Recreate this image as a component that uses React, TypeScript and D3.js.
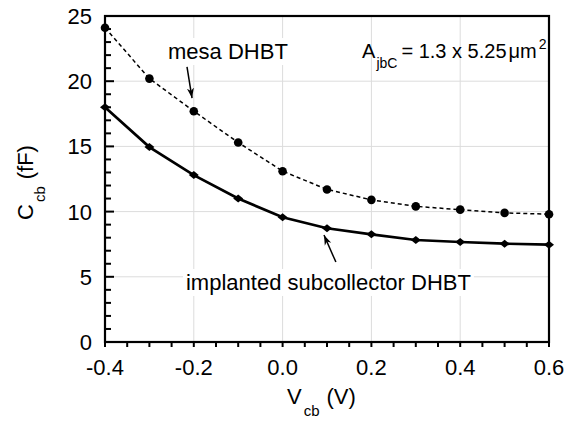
import React, { useLayoutEffect, useRef, useState } from "react";
import * as d3 from "d3";

const vcb = [-0.4, -0.3, -0.2, -0.1, 0.0, 0.1, 0.2, 0.3, 0.4, 0.5, 0.6];
const mesa = [24.1, 20.2, 17.7, 15.3, 13.1, 11.7, 10.9, 10.4, 10.15, 9.9, 9.8];
const implanted = [18.0, 14.95, 12.8, 11.0, 9.56, 8.72, 8.26, 7.82, 7.67, 7.54, 7.46];
const xTickVals = [-0.4, -0.2, 0.0, 0.2, 0.4, 0.6];
const xTickLabels = ["-0.4", "-0.2", "0.0", "0.2", "0.4", "0.6"];
const yTickVals = [0, 5, 10, 15, 20, 25];
const yTickLabels = ["0", "5", "10", "15", "20", "25"];

const W = 584;
const H = 422;
const M = { left: 105, right: 549, top: 16, bottom: 342 };
const FONT = "'Liberation Sans', Arial, Helvetica, sans-serif";

function BoxedText({ x, y, children, fontSize, pad = 3 }: any) {
  const ref = useRef<SVGTextElement>(null);
  const [bb, setBb] = useState<any>(null);
  useLayoutEffect(() => {
    if (ref.current) {
      const b = ref.current.getBBox();
      setBb({ x: b.x, y: b.y, width: b.width, height: b.height });
    }
  }, []);
  return (
    <g>
      {bb && (
        <rect x={bb.x - pad} y={bb.y - 1} width={bb.width + 2 * pad} height={bb.height + 2} fill="#fff" />
      )}
      <text ref={ref} x={x} y={y} fontSize={fontSize} fontFamily={FONT} fill="#000">
        {children}
      </text>
    </g>
  );
}

export default function App() {
  const x = d3.scaleLinear().domain([-0.4, 0.6]).range([M.left, M.right]);
  const y = d3.scaleLinear().domain([0, 25]).range([M.bottom, M.top]);

  const line = d3
    .line<number>()
    .x((_, i) => x(vcb[i]))
    .y((d) => y(d));

  const xMinor = d3.range(-0.4, 0.6001, 0.05);
  const yMinor = d3.range(0, 25.001, 1);
  const gridX = [-0.2, 0.0, 0.2, 0.4];
  const gridY = [5, 10, 15, 20];

  const diamond = d3.symbol(d3.symbolSquare, 45)()!;

  return (
    <svg width={W} height={H} style={{ position: "absolute", left: 0, top: 0, background: "#fff" }}>
      <defs>
        <marker id="arr" viewBox="0 0 10 10" refX="10" refY="5" markerWidth="10" markerHeight="10" markerUnits="userSpaceOnUse" orient="auto">
          <path d="M0,1.5 L10,5 L0,8.5 L3,5 Z" fill="#000" />
        </marker>
      </defs>
      {/* grid */}
      {gridX.map((v) => (
        <line key={"gx" + v} x1={x(v)} x2={x(v)} y1={M.top} y2={M.bottom} stroke="#dcdcdc" strokeWidth={1} />
      ))}
      {gridY.map((v) => (
        <line key={"gy" + v} x1={M.left} x2={M.right} y1={y(v)} y2={y(v)} stroke="#dcdcdc" strokeWidth={1} />
      ))}

      {/* annotations with white boxes */}
      <BoxedText x={x(-0.258)} y={y(21.7)} fontSize={22}>mesa DHBT</BoxedText>
      <BoxedText x={x(-0.2176)} y={y(3.99)} fontSize={22}>implanted subcollector DHBT</BoxedText>
      <text x={x(0.179)} y={y(21.78)} fontSize={20} fontFamily={FONT}>
        A
        <tspan fontSize={14} dy={10} dx={1}>jbC</tspan>
        <tspan dy={-10} dx={4}>= 1.3 x 5.25</tspan>
        <tspan dx={2}>μm</tspan>
        <tspan fontSize={14} dy={-9} dx={2}>2</tspan>
      </text>

      {/* arrows */}
      <line x1={x(-0.2153)} y1={y(21.09)} x2={x(-0.204)} y2={y(18.71)} stroke="#000" strokeWidth={1.5} markerEnd="url(#arr)" />
      <line x1={x(0.12)} y1={y(6.13)} x2={x(0.0932)} y2={y(8.2)} stroke="#000" strokeWidth={1.5} markerEnd="url(#arr)" />

      {/* series */}
      <path d={line(mesa)!} fill="none" stroke="#000" strokeWidth={1.5} strokeDasharray="4,3" />
      {mesa.map((v, i) => (
        <circle key={"m" + i} cx={x(vcb[i])} cy={y(v)} r={4.3} fill="#000" />
      ))}
      <path d={line(implanted)!} fill="none" stroke="#000" strokeWidth={2.7} />
      {implanted.map((v, i) => (
        <path key={"d" + i} d={diamond} transform={`translate(${x(vcb[i])},${y(v)}) scale(1.05,0.85) rotate(45)`} fill="#000" />
      ))}

      {/* frame */}
      <rect x={M.left} y={M.top} width={M.right - M.left} height={M.bottom - M.top} fill="none" stroke="#000" strokeWidth={2.2} />

      {/* x ticks (outward) */}
      {xMinor.map((v, i) => (
        <line key={"xt" + i} x1={x(v)} x2={x(v)} y1={M.bottom} y2={M.bottom + 5} stroke="#000" strokeWidth={2} />
      ))}
      {/* y ticks (inward) */}
      {yMinor.map((v, i) => (
        <line key={"yt" + i} x1={M.left} x2={M.left + (Math.round(v) % 5 === 0 ? 9 : 6)} y1={y(v)} y2={y(v)} stroke="#000" strokeWidth={2} />
      ))}

      {/* tick labels */}
      {xTickVals.map((v, i) => (
        <text key={"xl" + i} x={x(v)} y={M.bottom + 33} textAnchor="middle" fontSize={22} fontFamily={FONT}>
          {xTickLabels[i]}
        </text>
      ))}
      {yTickVals.map((v, i) => (
        <text key={"yl" + i} x={M.left - 13} y={y(v)} dy="0.36em" textAnchor="end" fontSize={22} fontFamily={FONT}>
          {yTickLabels[i]}
        </text>
      ))}

      {/* axis titles */}
      <text x={287} y={404} fontSize={22} fontFamily={FONT}>
        V<tspan fontSize={15} dy={12} dx={2}>cb</tspan>
        <tspan dy={-12} dx={7}>(V)</tspan>
      </text>
      <text transform={`translate(33,220) rotate(-90)`} fontSize={22} fontFamily={FONT}>
        C<tspan fontSize={15} dy={12} dx={2}>cb</tspan>
        <tspan dy={-12} dx={7}>(fF)</tspan>
      </text>
    </svg>
  );
}
